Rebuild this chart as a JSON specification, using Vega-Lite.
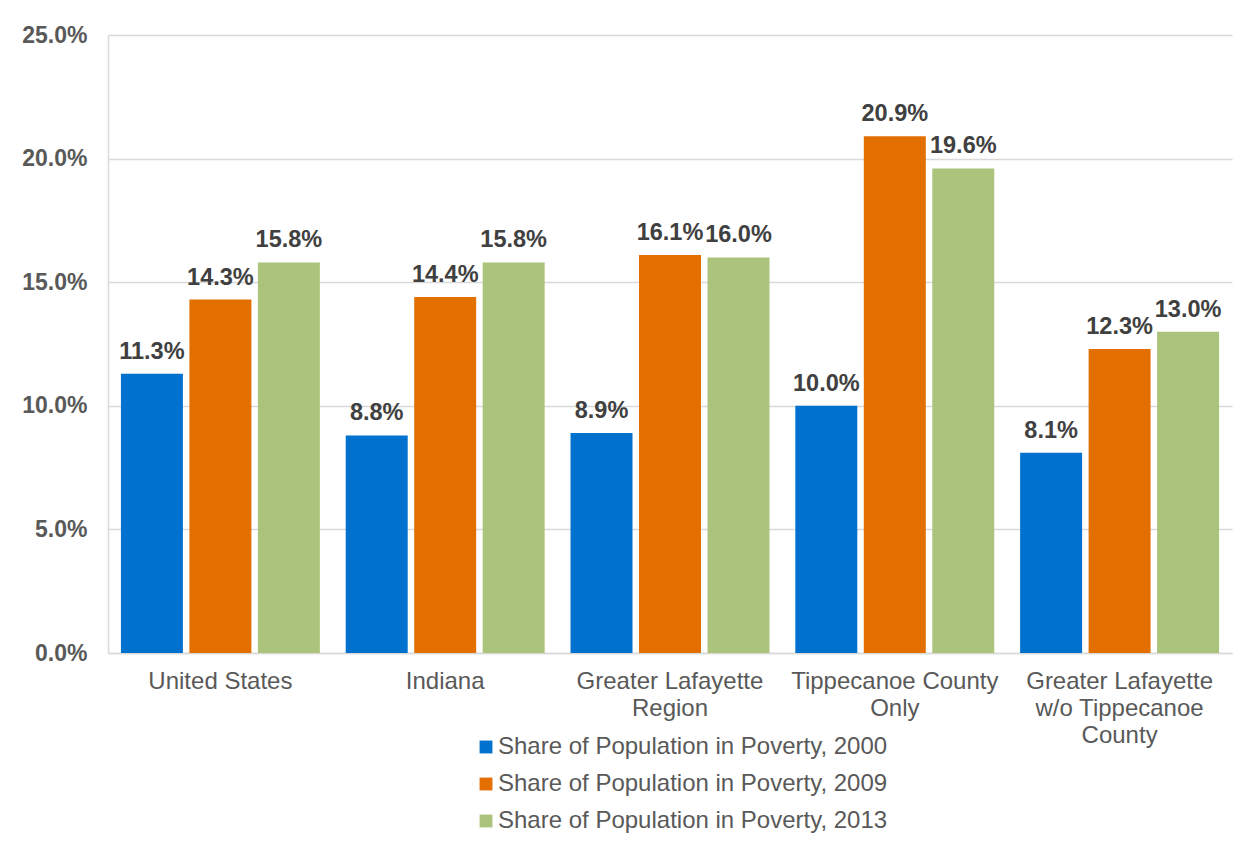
{
  "$schema": "https://vega.github.io/schema/vega-lite/v6.json",
  "autosize": "none",
  "width": 1124,
  "height": 618,
  "padding": {"left": 108, "top": 35, "right": 22, "bottom": 195},
  "background": "white",
  "config": {
    "font": "Liberation Sans",
    "view": {"stroke": null},
    "axis": {"labelFont": "Liberation Sans", "labelColor": "#595959"}
  },
  "data": {
    "values": [
      {"region": "United States", "series": "Share of Population in Poverty, 2000", "share": 0.113},
      {"region": "United States", "series": "Share of Population in Poverty, 2009", "share": 0.143},
      {"region": "United States", "series": "Share of Population in Poverty, 2013", "share": 0.158},
      {"region": "Indiana", "series": "Share of Population in Poverty, 2000", "share": 0.088},
      {"region": "Indiana", "series": "Share of Population in Poverty, 2009", "share": 0.144},
      {"region": "Indiana", "series": "Share of Population in Poverty, 2013", "share": 0.158},
      {"region": "Greater Lafayette Region", "series": "Share of Population in Poverty, 2000", "share": 0.089},
      {"region": "Greater Lafayette Region", "series": "Share of Population in Poverty, 2009", "share": 0.161},
      {"region": "Greater Lafayette Region", "series": "Share of Population in Poverty, 2013", "share": 0.160},
      {"region": "Tippecanoe County Only", "series": "Share of Population in Poverty, 2000", "share": 0.100},
      {"region": "Tippecanoe County Only", "series": "Share of Population in Poverty, 2009", "share": 0.209},
      {"region": "Tippecanoe County Only", "series": "Share of Population in Poverty, 2013", "share": 0.196},
      {"region": "Greater Lafayette w/o Tippecanoe County", "series": "Share of Population in Poverty, 2000", "share": 0.081},
      {"region": "Greater Lafayette w/o Tippecanoe County", "series": "Share of Population in Poverty, 2009", "share": 0.123},
      {"region": "Greater Lafayette w/o Tippecanoe County", "series": "Share of Population in Poverty, 2013", "share": 0.130}
    ]
  },
  "encoding": {
    "x": {
      "field": "region",
      "type": "nominal",
      "sort": null,
      "scale": {"paddingInner": 0.115, "paddingOuter": 0.0575},
      "axis": {
        "title": null,
        "labelAngle": 0,
        "labelFontSize": 24,
        "labelPadding": 16,
        "labelLineHeight": 27,
        "labelLimit": 400,
        "labelBaseline": "top",
        "ticks": false,
        "domainColor": "#D9D9D9",
        "domainWidth": 1.5,
        "labelExpr": "datum.label == 'Greater Lafayette Region' ? ['Greater Lafayette', 'Region'] : datum.label == 'Tippecanoe County Only' ? ['Tippecanoe County', 'Only'] : datum.label == 'Greater Lafayette w/o Tippecanoe County' ? ['Greater Lafayette', 'w/o Tippecanoe', 'County'] : datum.label"
      }
    },
    "xOffset": {
      "field": "series",
      "type": "nominal",
      "scale": {"paddingInner": 0.095, "paddingOuter": 0}
    },
    "y": {
      "field": "share",
      "type": "quantitative",
      "scale": {"domain": [0, 0.25], "nice": false},
      "axis": {
        "title": null,
        "values": [0, 0.05, 0.1, 0.15, 0.2, 0.25],
        "format": ".1%",
        "labelFontSize": 23,
        "labelFontWeight": "bold",
        "labelPadding": 21,
        "ticks": false,
        "domainColor": "#D9D9D9",
        "domainWidth": 1.5,
        "gridColor": "#D9D9D9",
        "gridWidth": 1.5
      }
    }
  },
  "layer": [
    {
      "mark": {"type": "bar"},
      "encoding": {
        "color": {
          "field": "series",
          "type": "nominal",
          "scale": {"range": ["#0071CE", "#E26F00", "#ACC37B"]},
          "legend": {
            "title": null,
            "orient": "none",
            "legendX": 366,
            "legendY": 700,
            "direction": "vertical",
            "symbolType": "square",
            "symbolSize": 165,
            "symbolStrokeWidth": 0,
            "symbolOffset": 0,
            "labelFont": "Liberation Sans",
            "labelFontSize": 24,
            "labelColor": "#595959",
            "labelOffset": 0,
            "labelLimit": 600,
            "rowPadding": 13
          }
        }
      }
    },
    {
      "mark": {
        "type": "text",
        "baseline": "alphabetic",
        "dy": -15,
        "fontSize": 23.5,
        "fontWeight": "bold",
        "color": "#404040"
      },
      "encoding": {
        "text": {"field": "share", "type": "quantitative", "format": ".1%"}
      }
    }
  ]
}
